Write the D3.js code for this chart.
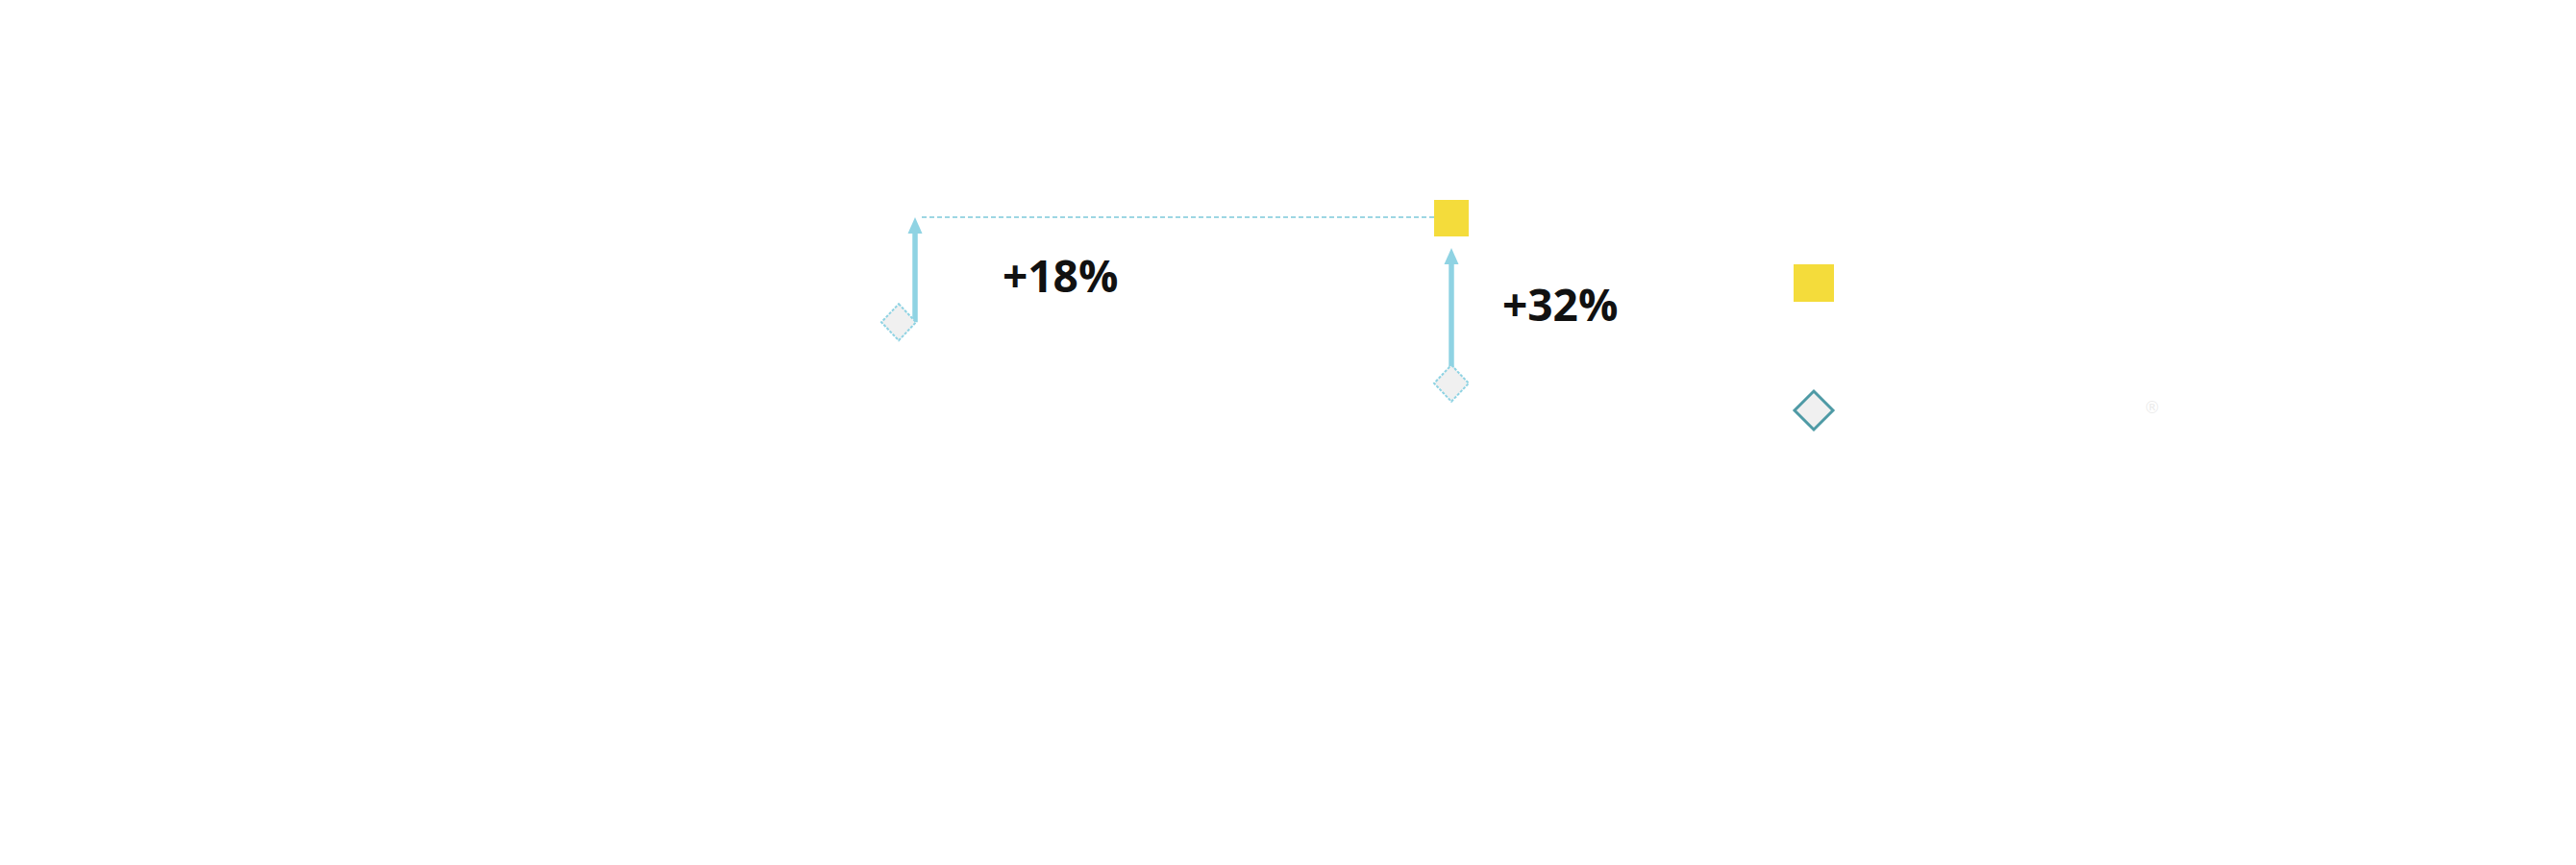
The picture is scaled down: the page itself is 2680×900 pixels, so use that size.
<!DOCTYPE html>
<html>
<head>
<meta charset="utf-8">
<script src="https://cdn.jsdelivr.net/npm/d3@7"></script>
<style>
  html, body { margin: 0; padding: 0; background: #ffffff; }
  svg { display: block; }
</style>
</head>
<body>
<svg id="chart" width="2680" height="900"></svg>
<script>
// ---- data ----
const categories = ["A", "B"];
const currentValues = [84.7, 75.8];
const targetValue = 100;
const changeLabels = ["+18%", "+32%"];
const legendKeys = ["target", "current"];

// ---- layout (not data) ----
const arrowDx = [17, 0];          // arrow offset from category centre
const arrowTipGap = [0, 32];      // gap between arrow tip and target level
const labelDx = [91, 53];         // label offset from arrow
const labelDy = [-31, -65];       // label baseline offset from current value

const svg = d3.select("#chart");
const x = d3.scalePoint().domain(categories).range([935, 1510]);
const y = d3.scaleLinear().domain([0, 100]).range([940, 226]);

const arrowColor = "#8fd3e3";
const yellow = "#f4dc3b";

function diamond(cx, cy, hw, hh) {
  return `M${cx},${cy - hh}L${cx + hw},${cy}L${cx},${cy + hh}L${cx - hw},${cy}Z`;
}

// dashed reference line from first arrow to target square
svg.append("line")
  .attr("x1", x(categories[0]) + arrowDx[0] + 7)
  .attr("x2", x(categories[1]) - 18)
  .attr("y1", y(targetValue))
  .attr("y2", y(targetValue))
  .attr("stroke", "#9dd6e3")
  .attr("stroke-width", 2)
  .attr("stroke-dasharray", "5,3");

// target square
svg.append("rect")
  .attr("x", x(categories[1]) - 18)
  .attr("y", y(targetValue) - 18)
  .attr("width", 36)
  .attr("height", 38)
  .attr("fill", yellow);

// arrows
const headLen = 17, headW = 15;
categories.forEach((c, i) => {
  const ax = x(c) + arrowDx[i];
  const y0 = y(currentValues[i]);
  const tip = y(targetValue) + arrowTipGap[i];
  svg.append("line")
    .attr("x1", ax).attr("x2", ax)
    .attr("y1", y0).attr("y2", tip + headLen - 1)
    .attr("stroke", arrowColor)
    .attr("stroke-width", 5.5);
  svg.append("path")
    .attr("d", `M${ax},${tip}L${ax + headW / 2},${tip + headLen}L${ax - headW / 2},${tip + headLen}Z`)
    .attr("fill", arrowColor);
});

// current value diamonds
svg.selectAll("path.cur")
  .data(categories)
  .enter().append("path")
  .attr("class", "cur")
  .attr("d", (c, i) => diamond(x(c), y(currentValues[i]), 18, 19))
  .attr("fill", "#f0f0f0")
  .attr("stroke", "#8fd3e3")
  .attr("stroke-width", 2)
  .attr("stroke-dasharray", "3,1.5");

// change labels
svg.selectAll("text.chg")
  .data(categories)
  .enter().append("text")
  .attr("class", "chg")
  .attr("x", (c, i) => x(c) + arrowDx[i] + labelDx[i])
  .attr("y", (c, i) => y(currentValues[i]) + labelDy[i])
  .attr("font-family", "'Open Sans', sans-serif")
  .attr("font-weight", 700)
  .attr("font-size", 46)
  .attr("fill", "#111111")
  .text((c, i) => changeLabels[i]);

// legend
const legendY = d3.scalePoint().domain(legendKeys).range([294, 427]);
const lx = 1887;
svg.append("rect")
  .attr("x", lx - 21).attr("y", legendY("target") - 19)
  .attr("width", 42).attr("height", 39)
  .attr("fill", yellow);
svg.append("path")
  .attr("d", diamond(lx, legendY("current"), 20, 20))
  .attr("fill", "#f0f0f0")
  .attr("stroke", "#4e9aa5")
  .attr("stroke-width", 3);

// faint registered mark
svg.append("text")
  .attr("x", 2239).attr("y", 430)
  .attr("text-anchor", "middle")
  .attr("font-family", "'DejaVu Sans', sans-serif")
  .attr("font-size", 17)
  .attr("fill", "#ececec")
  .text("®");
</script>
</body>
</html>
